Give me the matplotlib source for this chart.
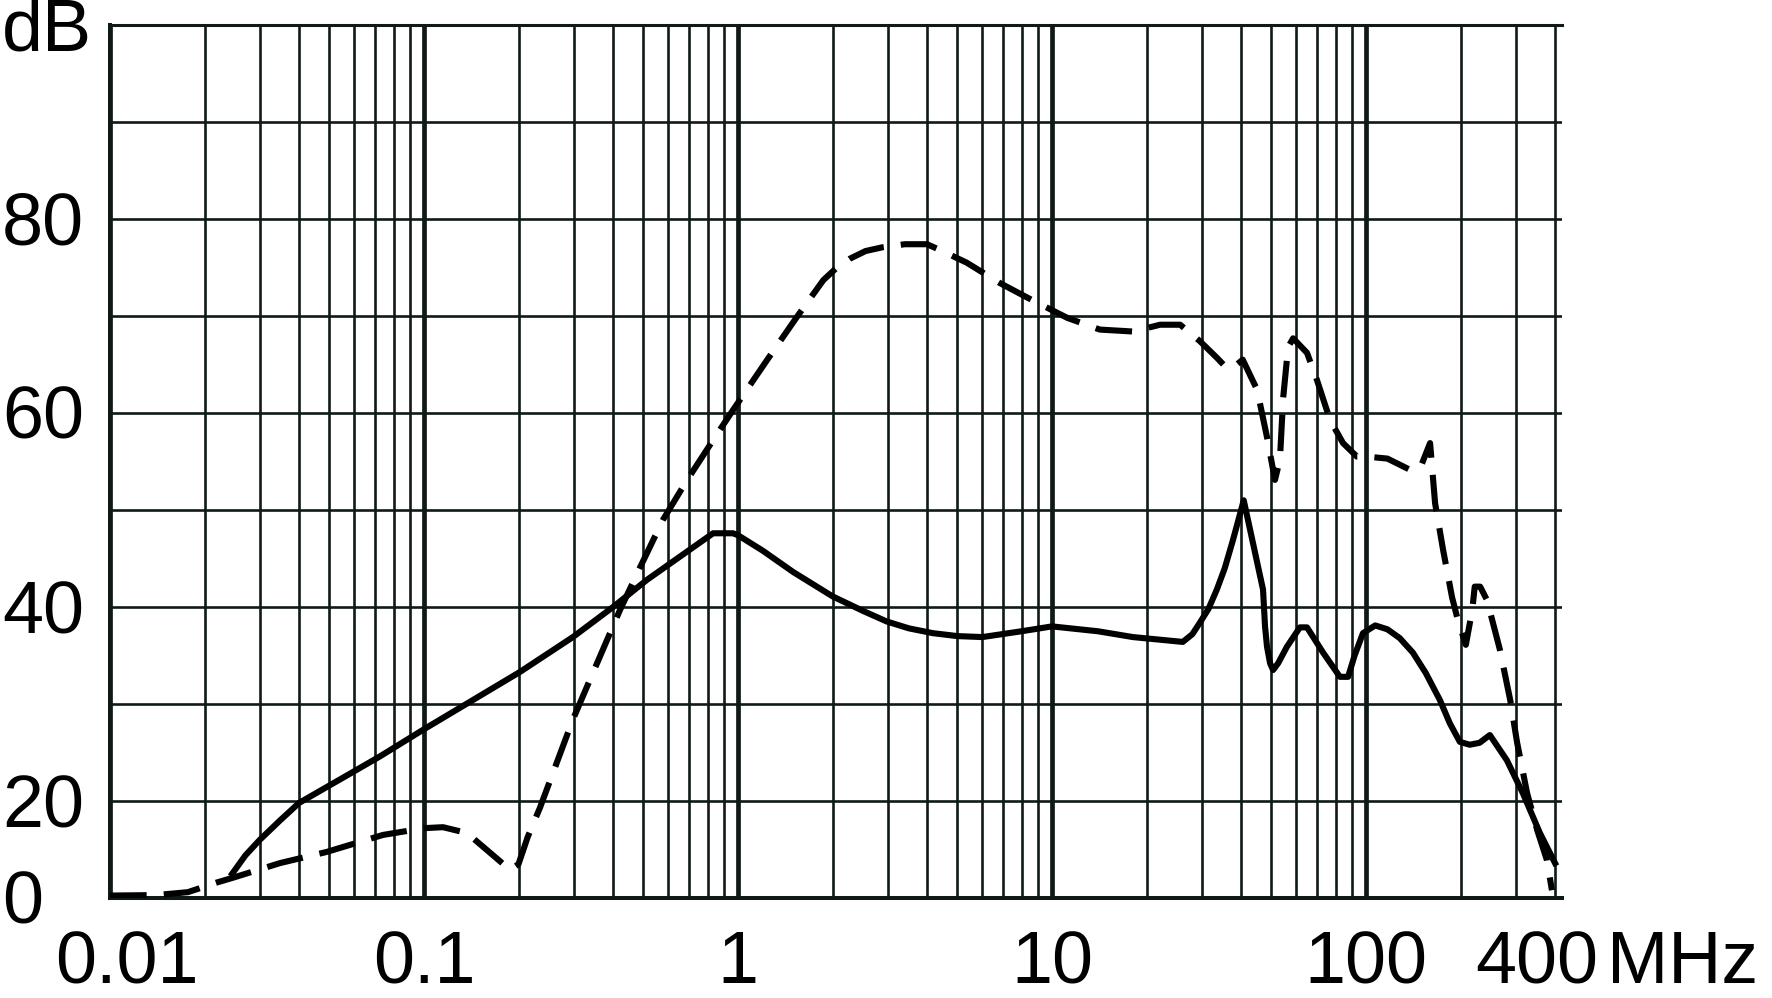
import numpy as np
import matplotlib
matplotlib.use('Agg')
import matplotlib.pyplot as plt
from matplotlib import transforms
from matplotlib.ticker import LogLocator, FixedLocator, NullFormatter

plt.rcParams['font.family'] = ['Liberation Sans', 'DejaVu Sans']

# solid curve (MHz, dB)
freq_solid = [0.0245, 0.027, 0.030, 0.0348, 0.040, 0.058, 0.0724, 0.10, 0.202, 0.298,
              0.40, 0.513, 0.833, 0.964, 1.0, 1.2, 1.5, 2.0, 2.5, 2.98,
              3.5, 4.18, 5.0, 6.0, 8.0, 10.0, 14.0, 18.1, 26.1, 28.0,
              29.6, 31.5, 33.5, 35.5, 37.7, 40.8, 47.0, 47.7, 48.4, 49.5,
              50.6, 52.5, 56.0, 61.6, 64.9, 73.0, 82.6, 87.7, 92.0, 97.8,
              107, 117, 128, 141, 155, 172, 185, 199, 214, 230,
              248, 281, 316, 358, 400]
db_solid = [5.0, 8.8, 12.0, 16.0, 19.6, 22.8, 24.6, 27.4, 33.3, 36.9,
            40.0, 42.8, 47.6, 47.6, 47.4, 45.8, 43.6, 41.1, 39.6, 38.5,
            37.8, 37.3, 37.0, 36.9, 37.5, 38.0, 37.5, 36.9, 36.4, 37.2,
            38.4, 39.8, 41.8, 44.0, 46.9, 51.0, 41.8, 38.0, 35.9, 34.2,
            33.5, 34.2, 35.9, 37.9, 37.9, 35.3, 32.8, 32.8, 35.0, 37.3,
            38.1, 37.7, 36.8, 35.3, 33.2, 30.4, 28.0, 26.1, 25.8, 26.0,
            26.8, 24.2, 20.8, 13.4, 7.2]

# dashed curve (MHz, dB)
freq_dash = [0.010, 0.014, 0.0177, 0.0219, 0.0247, 0.0348, 0.049, 0.074, 0.10, 0.115,
             0.137, 0.166, 0.188, 0.200, 0.214, 0.234, 0.298, 0.345, 0.421, 0.488,
             0.577, 0.689, 0.833, 0.964, 1.12, 1.24, 1.54, 1.87, 2.05, 2.27,
             2.55, 2.90, 3.4, 4.0, 4.4, 5.35, 6.82, 8.69, 11.2, 14.2,
             18.1, 22.1, 25.6, 29.6, 33.5, 36.1, 38.8, 40.5, 45.0, 48.4,
             51.3, 53.2, 54.5, 56.5, 58.6, 64.9, 69.8, 76.8, 84.5, 93.6,
             101, 117, 141, 150, 160, 166, 176, 188, 196, 208,
             218, 222, 231, 243, 267, 288, 303, 326, 351, 377,
             391]
db_dash = [0.5, 0.6, 1.2, 3.2, 4.2, 7.2, 9.5, 13.0, 14.4, 14.6,
           13.4, 8.8, 5.8, 7.0, 12.6, 18.6, 28.4, 33.2, 39.7, 44.1,
           49.0, 53.1, 57.2, 60.3, 63.4, 65.5, 69.9, 73.7, 74.9, 75.9,
           76.7, 77.1, 77.4, 77.4, 76.8, 75.5, 73.4, 71.6, 69.8, 68.6,
           68.4, 69.1, 69.1, 67.4, 65.7, 64.6, 65.0, 65.5, 62.4, 57.5,
           53.1, 55.2, 61.6, 66.8, 67.7, 66.2, 63.4, 59.3, 56.9, 55.5,
           55.5, 55.3, 54.0, 54.6, 56.9, 50.7, 45.9, 41.0, 38.7, 36.1,
           39.7, 42.1, 42.1, 40.7, 35.6, 30.4, 26.0, 20.8, 14.0, 7.8,
           1.6]

x_ticks = [0.01, 0.1, 1, 10, 100, 400]
x_labels = ['0.01', '0.1', '1', '10', '100', '400']
x_shift = [17, 0, 0, 0, 0, -18]  # px
y_ticks = [0, 20, 40, 60, 80, 100]
y_labels = ['0', '20', '40', '60', '80', 'dB']
y_grid = [20, 30, 40, 50, 60, 70, 80, 90]


# the 0..20 band is drawn at half height in the original
def fwd(v):
    v = np.asarray(v, dtype=float)
    return np.where(v < 20, 10 + v / 2, v)


def inv(p):
    p = np.asarray(p, dtype=float)
    return np.where(p < 20, (p - 10) * 2, p)


W, H = 1772, 998
fig = plt.figure(figsize=(W / 100, H / 100), dpi=100)
ax = fig.add_axes([110 / W, 100 / H, 1452 / W, 873 / H])

ax.set_xscale('log')
ax.set_yscale('function', functions=(fwd, inv))
ax.set_xlim(0.01, 421)
ax.set_ylim(0, 100)

gc = '#101a14'
ax.xaxis.set_major_locator(LogLocator(base=10))
ax.xaxis.set_minor_locator(LogLocator(base=10, subs=np.arange(2, 10)))
ax.xaxis.set_minor_formatter(NullFormatter())
ax.yaxis.set_major_locator(FixedLocator(y_grid))
ax.yaxis.set_minor_locator(FixedLocator([]))
ax.grid(True, which='major', axis='x', color=gc, lw=3.4)
ax.grid(True, which='minor', axis='x', color=gc, lw=1.9)
ax.grid(True, which='major', axis='y', color=gc, lw=1.9)
ax.tick_params(which='both', length=0, labelleft=False, labelbottom=False)

for s in ['left', 'bottom', 'top']:
    ax.spines[s].set_color(gc)
ax.spines['left'].set_linewidth(2.9)
ax.spines['bottom'].set_linewidth(2.9)
ax.spines['top'].set_linewidth(2.2)
ax.spines['right'].set_visible(False)

ax.plot(freq_solid, db_solid, color='black', lw=4.4, solid_joinstyle='round', zorder=3)
ax.plot(freq_dash, db_dash, color='black', lw=4.4, ls=(0, (6, 2.8)), dash_capstyle='butt',
        dash_joinstyle='round', zorder=3)

fs = 53
tx = transforms.blended_transform_factory(ax.transData, ax.transAxes)
for f, lab, dx in zip(x_ticks, x_labels, x_shift):
    tr = transforms.offset_copy(tx, fig=fig, x=dx, y=-85, units='dots')
    ax.text(f, 0, lab, transform=tr, ha='center', va='baseline', fontsize=fs, clip_on=False)
fig.text(1607 / W, (H - 983) / H, 'MHz', ha='left', va='baseline', fontsize=fs)

ty = transforms.blended_transform_factory(fig.transFigure, ax.transData)
for v, lab in zip(y_ticks, y_labels):
    tr = transforms.offset_copy(ty, fig=fig, x=0, y=-26, units='dots')
    ax.text(2 / W, v, lab, transform=tr, ha='left', va='baseline', fontsize=fs, clip_on=False)

fig.savefig('out.png', dpi=100)
